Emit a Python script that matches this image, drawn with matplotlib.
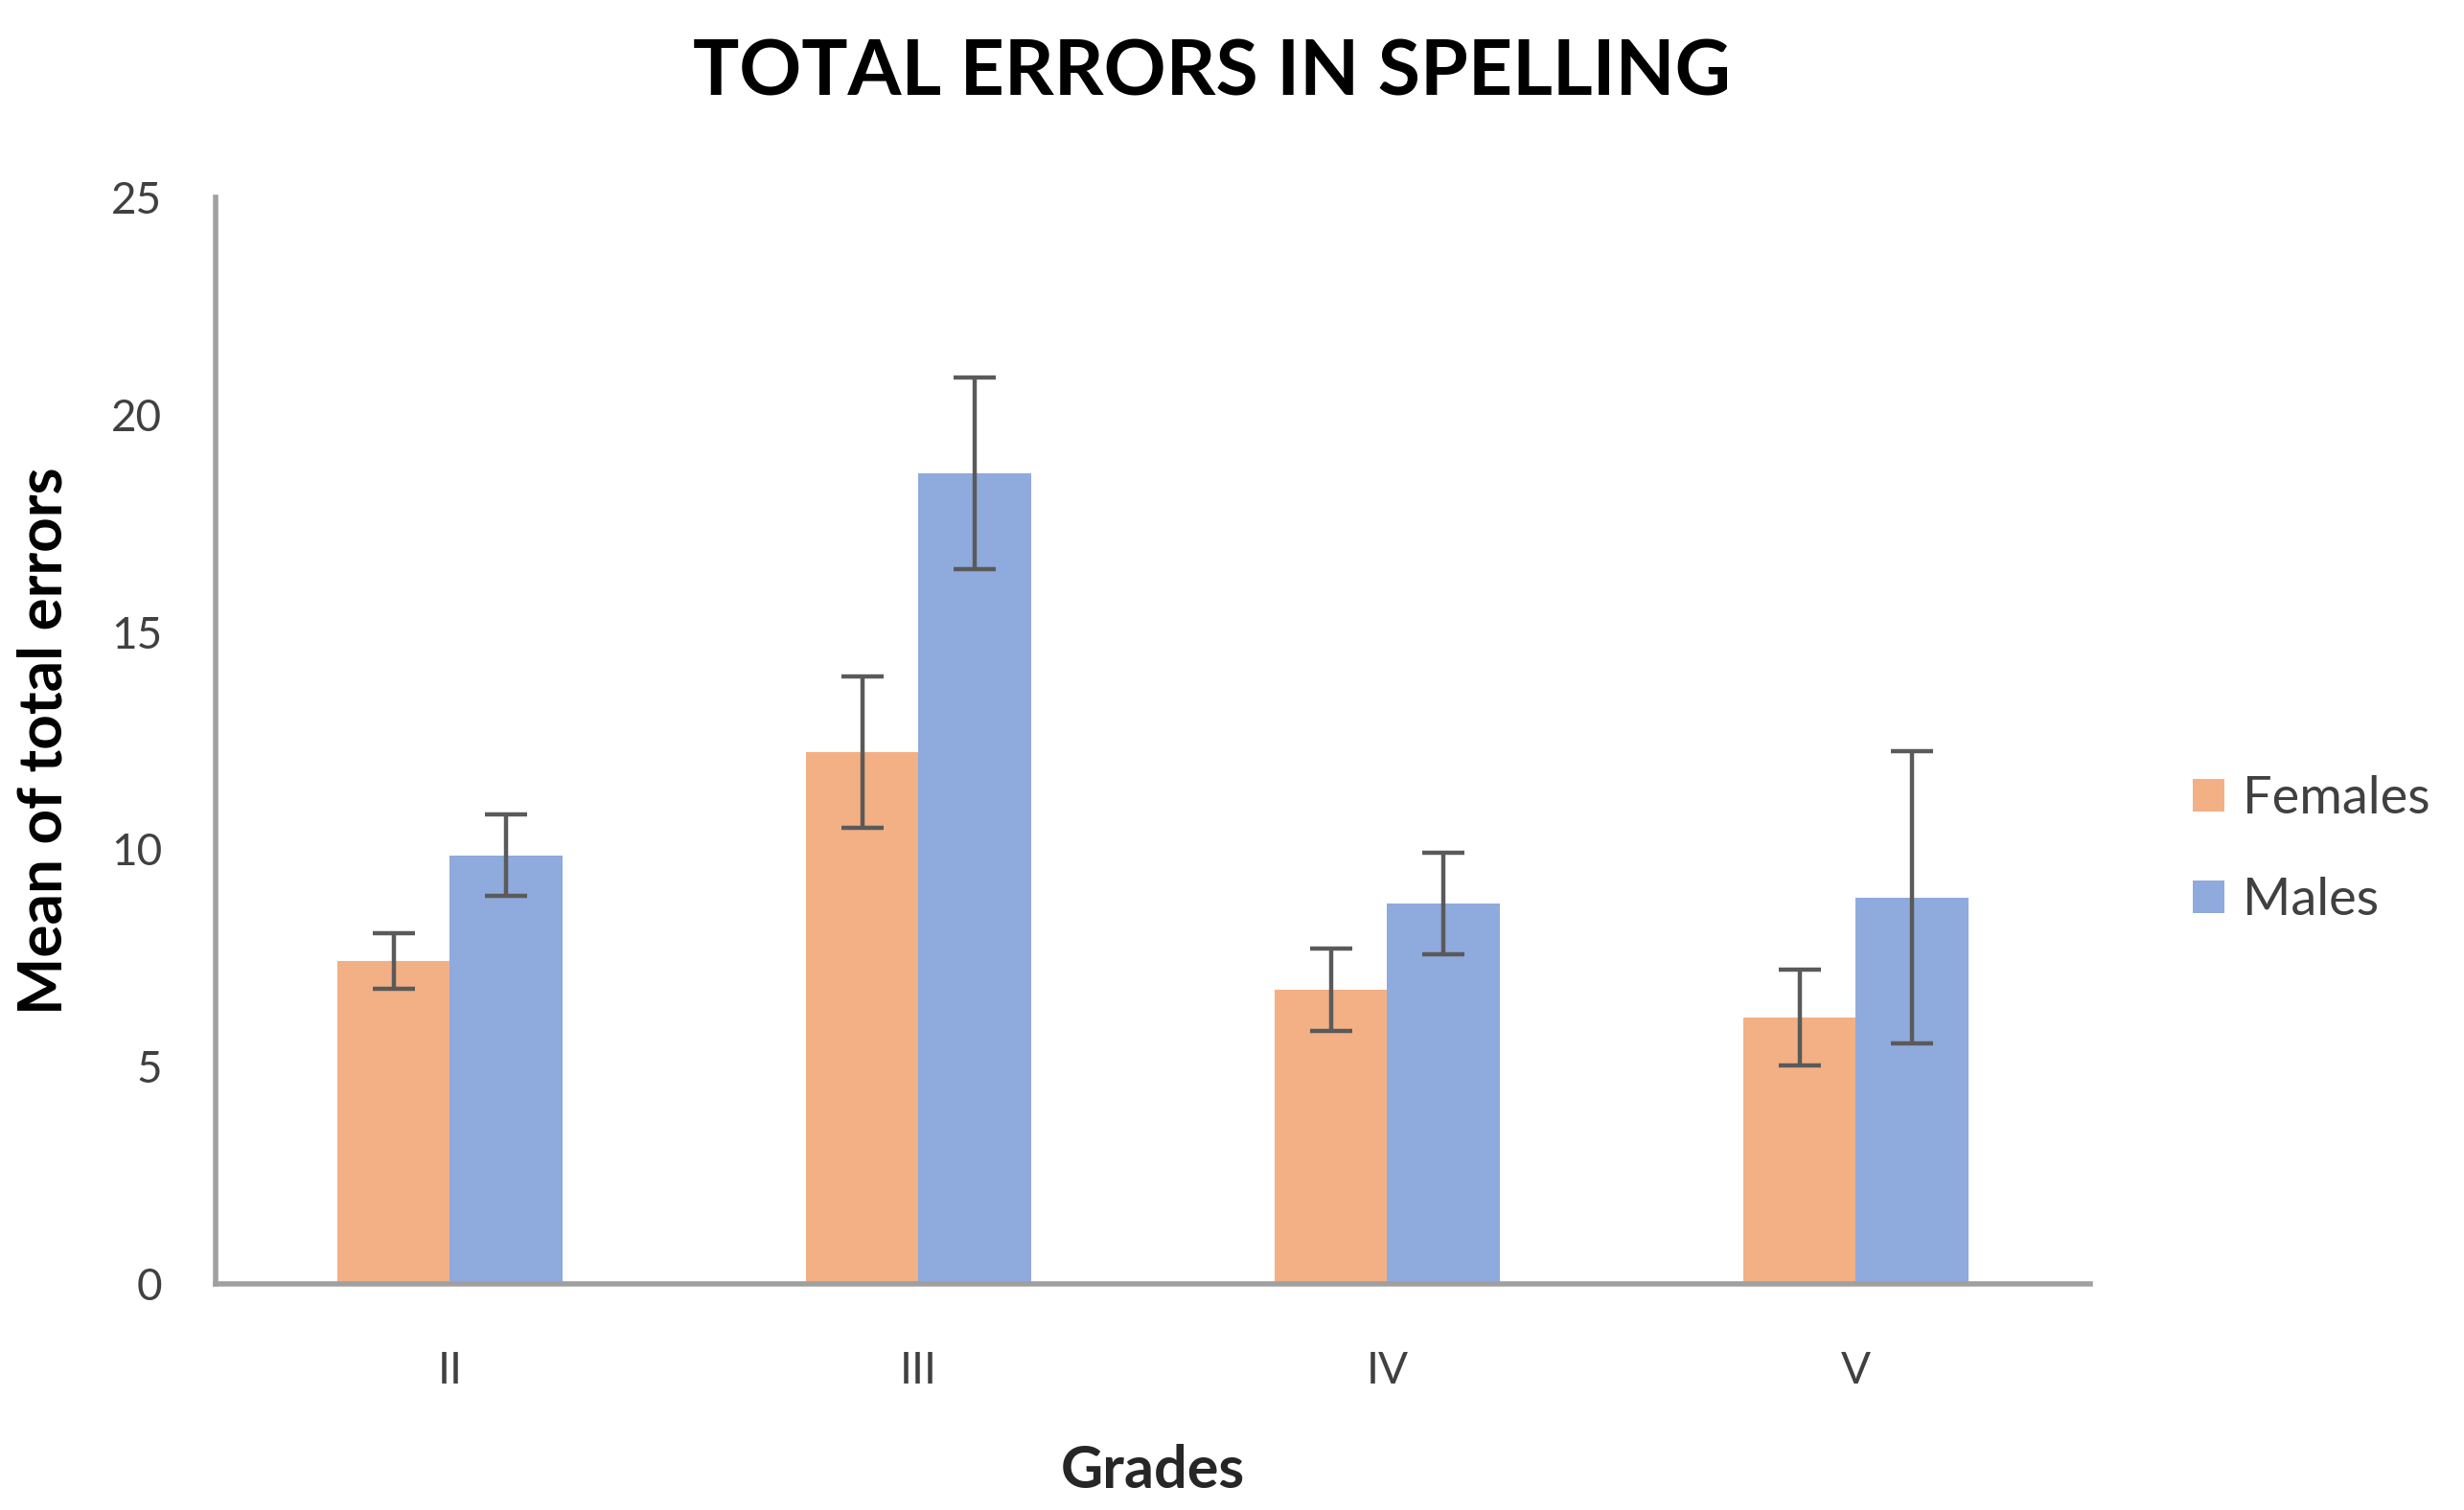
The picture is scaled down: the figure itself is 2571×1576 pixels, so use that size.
import matplotlib
matplotlib.use("Agg")
import matplotlib.pyplot as plt
import numpy as np

grades = ["II", "III", "IV", "V"]
females = [7.43, 12.23, 6.77, 6.13]
females_err = [0.64, 1.74, 0.95, 1.1]
males = [9.86, 18.65, 8.75, 8.89]
males_err = [0.94, 2.2, 1.17, 3.36]
yticks = [0, 5, 10, 15, 20, 25]

plt.rcParams['font.family'] = ['Lato', 'DejaVu Sans']

fig = plt.figure(figsize=(25.71, 15.76), dpi=100)
ax = fig.add_axes([0.0875, 0.1497, 0.7608, 0.7196])

x = np.arange(len(grades))
w = 0.24
ekw = dict(ecolor="#5a5a5a", elinewidth=3.2, capsize=16, capthick=3.2)
ax.bar(x - w/2, females, w, yerr=females_err, color="#F2B084", label="Females", error_kw=ekw)
ax.bar(x + w/2, males, w, yerr=males_err, color="#8FAADC", label="Males", error_kw=ekw)

ax.set_xlim(-0.5, 3.5)
ax.set_ylim(0, 25)
ax.set_yticks(yticks)
ax.set_xticks(x)
ax.set_xticklabels(grades)
ax.tick_params(axis="both", length=0, labelsize=33, colors="#404040")
ax.tick_params(axis="y", pad=40)
ax.tick_params(axis="x", pad=50)
for s in ["top", "right"]:
    ax.spines[s].set_visible(False)
for s in ["left", "bottom"]:
    ax.spines[s].set_color("#a0a0a0")
    ax.spines[s].set_linewidth(4)

ax.set_xlabel("Grades", fontsize=44, fontweight="bold", color="#262626", labelpad=40)
ax.set_ylabel("Mean of total errors", fontsize=46, fontweight="bold", color="#000000", labelpad=30)
fig.suptitle("TOTAL ERRORS IN SPELLING", fontsize=58, fontweight="bold", x=0.492, y=0.975)

leg = ax.legend(loc="center left", bbox_to_anchor=(1.03, 0.40), frameon=False,
                fontsize=39, handlelength=0.6, handleheight=0.6, handletextpad=0.35,
                labelspacing=1.05)
for t in leg.get_texts():
    t.set_color("#404040")

fig.savefig("out.png", dpi=100)
